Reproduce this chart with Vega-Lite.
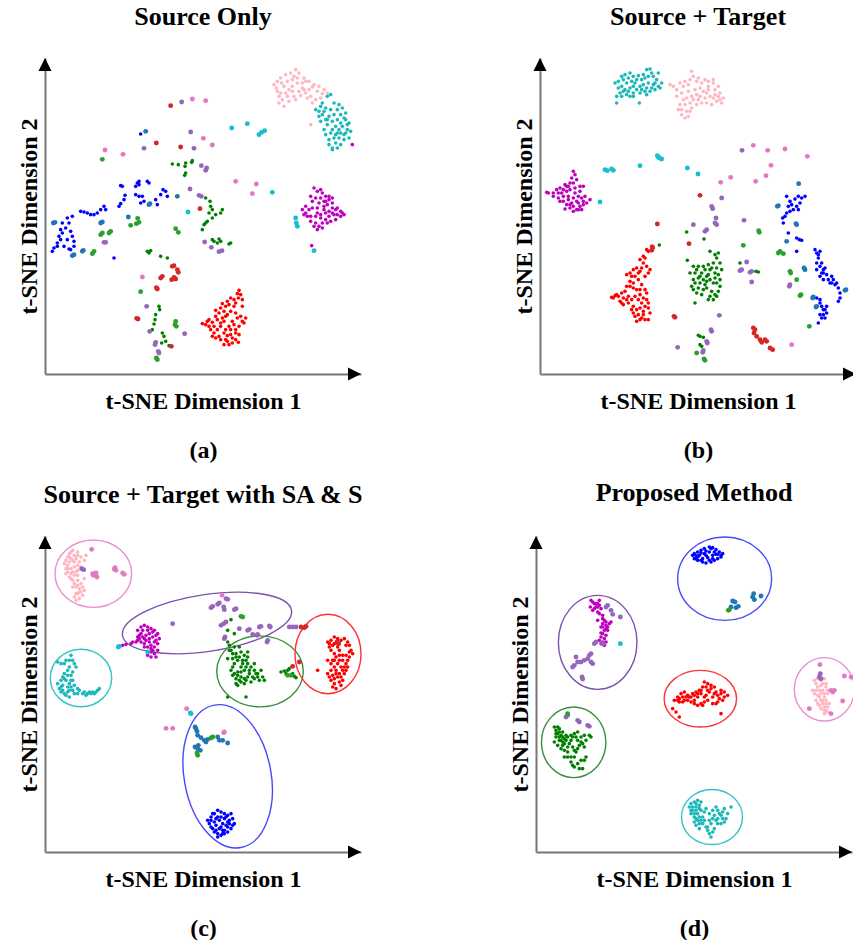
{
"$schema":"https://vega.github.io/schema/vega-lite/v6.json",
"background":"white",
"padding":{"left":17,"top":4,"right":0,"bottom":0},
"config":{
 "view":{"stroke":null},
 "font":"Liberation Serif",
 "title":{"font":"Liberation Serif","fontSize":26,"fontWeight":"bold","color":"black","anchor":"middle","baseline":"alphabetic","offset":28},
 "axis":{"domainColor":"#777777","domainWidth":2,"ticks":false,"labels":false,"grid":false,"titleFont":"Liberation Serif","titleFontSize":24,"titleFontWeight":"bold","titleColor":"black"},
 "axisX":{"titlePadding":15,"titleLineHeight":49},
 "axisY":{"titlePadding":4}
},
"datasets":{
"a":[
{"x":705,"y":895,"k":"lp"},{"x":715,"y":905,"k":"lp"},{"x":725,"y":915,"k":"lp"},{"x":740,"y":925,"k":"lp"},{"x":755,"y":930,"k":"lp"},{"x":770,"y":940,"k":"lp"},{"x":780,"y":930,"k":"lp"},{"x":795,"y":915,"k":"lp"},{"x":810,"y":905,"k":"lp"},{"x":825,"y":895,"k":"lp"},{"x":840,"y":890,"k":"lp"},{"x":855,"y":880,"k":"lp"},{"x":865,"y":870,"k":"lp"},{"x":715,"y":875,"k":"lp"},{"x":720,"y":860,"k":"lp"},{"x":730,"y":850,"k":"lp"},{"x":740,"y":870,"k":"lp"},{"x":750,"y":880,"k":"lp"},{"x":760,"y":890,"k":"lp"},{"x":775,"y":900,"k":"lp"},{"x":790,"y":885,"k":"lp"},{"x":800,"y":870,"k":"lp"},{"x":815,"y":860,"k":"lp"},{"x":830,"y":850,"k":"lp"},{"x":845,"y":855,"k":"lp"},{"x":720,"y":840,"k":"lp"},{"x":735,"y":830,"k":"lp"},{"x":750,"y":845,"k":"lp"},{"x":765,"y":860,"k":"lp"},{"x":780,"y":875,"k":"lp"},{"x":810,"y":880,"k":"lp"},{"x":820,"y":840,"k":"lp"},{"x":760,"y":910,"k":"lp"},{"x":735,"y":890,"k":"lp"},{"x":790,"y":900,"k":"lp"},{"x":805,"y":855,"k":"lp"},{"x":815,"y":775,"k":"lp"},
{"x":712,"y":885,"k":"lp"},{"x":728,"y":900,"k":"lp"},{"x":745,"y":905,"k":"lp"},{"x":765,"y":920,"k":"lp"},{"x":775,"y":915,"k":"lp"},{"x":800,"y":905,"k":"lp"},{"x":820,"y":888,"k":"lp"},{"x":835,"y":875,"k":"lp"},{"x":850,"y":868,"k":"lp"},{"x":725,"y":870,"k":"lp"},{"x":745,"y":860,"k":"lp"},{"x":770,"y":850,"k":"lp"},{"x":785,"y":862,"k":"lp"},{"x":795,"y":880,"k":"lp"},{"x":760,"y":875,"k":"lp"},
{"x":830,"y":820,"k":"c"},{"x":845,"y":830,"k":"c"},{"x":855,"y":815,"k":"c"},{"x":850,"y":840,"k":"c"},{"x":865,"y":860,"k":"c"},{"x":875,"y":865,"k":"c"},{"x":900,"y":835,"k":"c"},{"x":910,"y":825,"k":"c"},{"x":905,"y":805,"k":"c"},{"x":920,"y":790,"k":"c"},{"x":930,"y":780,"k":"c"},{"x":925,"y":760,"k":"c"},{"x":915,"y":745,"k":"c"},{"x":900,"y":735,"k":"c"},{"x":890,"y":720,"k":"c"},{"x":880,"y":705,"k":"c"},{"x":870,"y":730,"k":"c"},{"x":860,"y":745,"k":"c"},{"x":855,"y":760,"k":"c"},{"x":865,"y":775,"k":"c"},{"x":880,"y":785,"k":"c"},{"x":890,"y":770,"k":"c"},{"x":900,"y":760,"k":"c"},{"x":910,"y":770,"k":"c"},{"x":870,"y":800,"k":"c"},{"x":885,"y":805,"k":"c"},{"x":895,"y":790,"k":"c"},{"x":860,"y":790,"k":"c"},{"x":850,"y":805,"k":"c"},{"x":840,"y":815,"k":"c"},{"x":875,"y":750,"k":"c"},{"x":895,"y":750,"k":"c"},{"x":915,"y":730,"k":"c"},{"x":930,"y":735,"k":"c"},{"x":880,"y":700,"k":"c"},{"x":905,"y":715,"k":"c"},{"x":935,"y":755,"k":"c"},{"x":920,"y":810,"k":"c"},{"x":845,"y":785,"k":"c"},{"x":875,"y":820,"k":"c"},
{"x":840,"y":800,"k":"c"},{"x":860,"y":825,"k":"c"},{"x":885,"y":840,"k":"c"},{"x":895,"y":820,"k":"c"},{"x":915,"y":795,"k":"c"},{"x":925,"y":775,"k":"c"},{"x":905,"y":750,"k":"c"},{"x":885,"y":735,"k":"c"},{"x":870,"y":715,"k":"c"},{"x":890,"y":745,"k":"c"},{"x":905,"y":780,"k":"c"},{"x":865,"y":790,"k":"c"},{"x":880,"y":760,"k":"c"},{"x":920,"y":750,"k":"c"},{"x":895,"y":705,"k":"c"},
{"x":940,"y":715,"k":"m"},
{"x":395,"y":832,"k":"tr"},{"x":428,"y":843,"k":"tp"},{"x":460,"y":852,"k":"tk"},{"x":500,"y":847,"k":"tk"},
{"x":320,"y":755,"k":"tb"},{"x":305,"y":747,"k":"b"},{"x":455,"y":753,"k":"tp"},{"x":493,"y":734,"k":"tk"},{"x":520,"y":714,"k":"tk"},
{"x":352,"y":720,"k":"tr"},{"x":315,"y":704,"k":"tp"},{"x":425,"y":708,"k":"tr"},{"x":465,"y":704,"k":"tp"},
{"x":198,"y":699,"k":"tk"},{"x":252,"y":686,"k":"tk"},{"x":190,"y":671,"k":"tg"},
{"x":578,"y":765,"k":"tc"},{"x":625,"y":778,"k":"tc"},{"x":660,"y":745,"k":"tc"},{"x":668,"y":752,"k":"tc"},{"x":677,"y":757,"k":"tc"},
{"x":400,"y":657,"k":"g"},{"x":418,"y":655,"k":"g"},{"x":440,"y":660,"k":"g"},{"x":438,"y":650,"k":"g"},{"x":460,"y":667,"k":"g"},{"x":458,"y":662,"k":"g"},{"x":440,"y":630,"k":"g"},{"x":437,"y":623,"k":"g"},
{"x":487,"y":652,"k":"tp"},{"x":500,"y":638,"k":"tp"},{"x":503,"y":645,"k":"tp"},
{"x":590,"y":605,"k":"tk"},{"x":652,"y":597,"k":"tk"},{"x":640,"y":568,"k":"tk"},{"x":700,"y":572,"k":"tc"},
{"x":453,"y":582,"k":"tp"},{"x":480,"y":563,"k":"tp"},{"x":487,"y":560,"k":"tp"},{"x":415,"y":560,"k":"tb"},{"x":483,"y":523,"k":"tr"},{"x":447,"y":513,"k":"tc"},
{"x":500,"y":555,"k":"g"},{"x":513,"y":545,"k":"g"},{"x":515,"y":530,"k":"g"},{"x":520,"y":520,"k":"g"},{"x":510,"y":510,"k":"g"},{"x":530,"y":505,"k":"g"},{"x":545,"y":510,"k":"g"},{"x":550,"y":520,"k":"g"},{"x":505,"y":485,"k":"g"},{"x":495,"y":475,"k":"g"},{"x":490,"y":460,"k":"g"},{"x":500,"y":480,"k":"g"},{"x":520,"y":495,"k":"g"},
{"x":497,"y":423,"k":"tp"},{"x":517,"y":407,"k":"tp"},{"x":549,"y":397,"k":"tp"},{"x":540,"y":394,"k":"tp"},
{"x":520,"y":430,"k":"g"},{"x":525,"y":425,"k":"g"},{"x":535,"y":420,"k":"g"},{"x":545,"y":425,"k":"g"},{"x":540,"y":432,"k":"g"},{"x":575,"y":420,"k":"g"},{"x":570,"y":417,"k":"g"},
{"x":410,"y":463,"k":"tg"},{"x":418,"y":452,"k":"tg"},{"x":330,"y":535,"k":"tb"},{"x":333,"y":538,"k":"tb"},
{"x":125,"y":515,"k":"b"},{"x":135,"y":513,"k":"b"},{"x":145,"y":510,"k":"b"},{"x":155,"y":505,"k":"b"},{"x":165,"y":505,"k":"b"},{"x":175,"y":510,"k":"b"},{"x":185,"y":520,"k":"b"},{"x":195,"y":530,"k":"b"},{"x":200,"y":520,"k":"b"},{"x":240,"y":530,"k":"b"},{"x":245,"y":538,"k":"b"},{"x":255,"y":550,"k":"b"},{"x":258,"y":563,"k":"b"},{"x":250,"y":590,"k":"b"},{"x":245,"y":592,"k":"b"},{"x":290,"y":590,"k":"b"},{"x":295,"y":600,"k":"b"},{"x":300,"y":605,"k":"b"},{"x":325,"y":605,"k":"b"},{"x":290,"y":565,"k":"b"},{"x":300,"y":560,"k":"b"},{"x":310,"y":560,"k":"b"},{"x":305,"y":540,"k":"b"},{"x":315,"y":545,"k":"b"},{"x":350,"y":550,"k":"b"},{"x":355,"y":535,"k":"b"},{"x":372,"y":580,"k":"b"},{"x":380,"y":575,"k":"b"},{"x":385,"y":560,"k":"b"},{"x":365,"y":565,"k":"b"},{"x":330,"y":600,"k":"b"},{"x":300,"y":595,"k":"b"},
{"x":268,"y":498,"k":"tb"},{"x":185,"y":480,"k":"tb"},{"x":190,"y":483,"k":"tb"},
{"x":296,"y":494,"k":"tg"},{"x":300,"y":482,"k":"tg"},{"x":292,"y":478,"k":"tg"},{"x":275,"y":473,"k":"tg"},
{"x":40,"y":395,"k":"b"},{"x":45,"y":405,"k":"b"},{"x":55,"y":420,"k":"b"},{"x":60,"y":440,"k":"b"},{"x":65,"y":460,"k":"b"},{"x":70,"y":480,"k":"b"},{"x":80,"y":465,"k":"b"},{"x":90,"y":480,"k":"b"},{"x":95,"y":455,"k":"b"},{"x":100,"y":440,"k":"b"},{"x":85,"y":430,"k":"b"},{"x":75,"y":410,"k":"b"},{"x":90,"y":402,"k":"b"},{"x":95,"y":400,"k":"b"},{"x":105,"y":410,"k":"b"},{"x":105,"y":425,"k":"b"},{"x":65,"y":430,"k":"b"},{"x":55,"y":410,"k":"b"},{"x":70,"y":450,"k":"b"},{"x":85,"y":495,"k":"b"},{"x":100,"y":500,"k":"b"},
{"x":43,"y":480,"k":"tb"},{"x":48,"y":482,"k":"tb"},{"x":100,"y":382,"k":"tb"},{"x":105,"y":385,"k":"tb"},{"x":130,"y":395,"k":"tb"},{"x":133,"y":398,"k":"tb"},{"x":160,"y":388,"k":"tg"},{"x":165,"y":395,"k":"tg"},
{"x":185,"y":445,"k":"tg"},{"x":190,"y":450,"k":"tg"},{"x":215,"y":455,"k":"tg"},{"x":210,"y":450,"k":"tg"},{"x":195,"y":422,"k":"tp"},{"x":200,"y":422,"k":"tp"},
{"x":225,"y":375,"k":"b"},
{"x":325,"y":395,"k":"g"},{"x":330,"y":390,"k":"g"},{"x":335,"y":397,"k":"g"},{"x":365,"y":380,"k":"g"},{"x":385,"y":375,"k":"g"},
{"x":400,"y":350,"k":"tr"},{"x":405,"y":352,"k":"tr"},{"x":415,"y":340,"k":"tr"},{"x":418,"y":332,"k":"tr"},{"x":405,"y":317,"k":"tr"},{"x":398,"y":310,"k":"tr"},{"x":410,"y":312,"k":"tr"},{"x":365,"y":315,"k":"tr"},{"x":370,"y":320,"k":"tr"},{"x":310,"y":318,"k":"tk"},{"x":355,"y":282,"k":"tr"},{"x":352,"y":286,"k":"tr"},{"x":305,"y":274,"k":"tg"},
{"x":323,"y":230,"k":"tp"},{"x":360,"y":230,"k":"g"},{"x":362,"y":220,"k":"g"},{"x":350,"y":205,"k":"g"},{"x":348,"y":190,"k":"g"},{"x":345,"y":177,"k":"g"},{"x":340,"y":160,"k":"g"},{"x":293,"y":194,"k":"tr"},{"x":297,"y":192,"k":"tr"},{"x":410,"y":185,"k":"tg"},{"x":408,"y":175,"k":"tg"},{"x":412,"y":170,"k":"tg"},{"x":332,"y":155,"k":"tp"},{"x":437,"y":148,"k":"tp"},{"x":370,"y":150,"k":"g"},{"x":375,"y":140,"k":"g"},{"x":380,"y":125,"k":"g"},{"x":368,"y":120,"k":"g"},{"x":390,"y":112,"k":"g"},{"x":397,"y":110,"k":"tr"},{"x":350,"y":122,"k":"tp"},{"x":348,"y":115,"k":"tp"},{"x":358,"y":95,"k":"tp"},{"x":360,"y":90,"k":"tp"},{"x":352,"y":75,"k":"tg"},{"x":355,"y":70,"k":"tg"},
{"x":600,"y":278,"k":"r"},{"x":605,"y":265,"k":"r"},{"x":610,"y":250,"k":"r"},{"x":598,"y":255,"k":"r"},{"x":590,"y":240,"k":"r"},{"x":575,"y":255,"k":"r"},{"x":570,"y":235,"k":"r"},{"x":560,"y":230,"k":"r"},{"x":545,"y":225,"k":"r"},{"x":530,"y":218,"k":"r"},{"x":555,"y":215,"k":"r"},{"x":575,"y":215,"k":"r"},{"x":590,"y":210,"k":"r"},{"x":605,"y":200,"k":"r"},{"x":620,"y":195,"k":"r"},{"x":615,"y":180,"k":"r"},{"x":600,"y":170,"k":"r"},{"x":590,"y":160,"k":"r"},{"x":600,"y":145,"k":"r"},{"x":590,"y":130,"k":"r"},{"x":598,"y":122,"k":"r"},{"x":580,"y":120,"k":"r"},{"x":565,"y":125,"k":"r"},{"x":555,"y":115,"k":"r"},{"x":545,"y":130,"k":"r"},{"x":540,"y":140,"k":"r"},{"x":525,"y":150,"k":"r"},{"x":515,"y":160,"k":"r"},{"x":510,"y":170,"k":"r"},{"x":500,"y":175,"k":"r"},{"x":490,"y":178,"k":"r"},{"x":505,"y":185,"k":"r"},{"x":520,"y":182,"k":"r"},{"x":535,"y":190,"k":"r"},{"x":550,"y":195,"k":"r"},{"x":560,"y":200,"k":"r"},{"x":545,"y":170,"k":"r"},{"x":560,"y":160,"k":"r"},{"x":570,"y":170,"k":"r"},{"x":575,"y":145,"k":"r"},{"x":580,"y":185,"k":"r"},{"x":530,"y":200,"k":"r"},{"x":585,"y":230,"k":"r"},{"x":565,"y":142,"k":"r"},{"x":520,"y":140,"k":"r"},{"x":610,"y":230,"k":"r"},{"x":555,"y":185,"k":"r"},
{"x":595,"y":268,"k":"r"},{"x":585,"y":250,"k":"r"},{"x":565,"y":245,"k":"r"},{"x":550,"y":238,"k":"r"},{"x":540,"y":210,"k":"r"},{"x":565,"y":205,"k":"r"},{"x":595,"y":195,"k":"r"},{"x":610,"y":185,"k":"r"},{"x":585,"y":175,"k":"r"},{"x":575,"y":160,"k":"r"},{"x":590,"y":150,"k":"r"},{"x":580,"y":135,"k":"r"},{"x":555,"y":150,"k":"r"},{"x":535,"y":160,"k":"r"},{"x":525,"y":170,"k":"r"},{"x":510,"y":190,"k":"r"},{"x":545,"y":180,"k":"r"},{"x":560,"y":130,"k":"r"},{"x":570,"y":115,"k":"r"},{"x":530,"y":135,"k":"r"},
{"x":825,"y":585,"k":"m"},{"x":835,"y":575,"k":"m"},{"x":850,"y":570,"k":"m"},{"x":860,"y":560,"k":"m"},{"x":870,"y":550,"k":"m"},{"x":880,"y":555,"k":"m"},{"x":830,"y":555,"k":"m"},{"x":820,"y":545,"k":"m"},{"x":840,"y":540,"k":"m"},{"x":855,"y":530,"k":"m"},{"x":865,"y":535,"k":"m"},{"x":880,"y":525,"k":"m"},{"x":890,"y":520,"k":"m"},{"x":905,"y":515,"k":"m"},{"x":915,"y":505,"k":"m"},{"x":905,"y":500,"k":"m"},{"x":895,"y":505,"k":"m"},{"x":870,"y":500,"k":"m"},{"x":860,"y":490,"k":"m"},{"x":850,"y":480,"k":"m"},{"x":840,"y":470,"k":"m"},{"x":835,"y":460,"k":"m"},{"x":825,"y":470,"k":"m"},{"x":815,"y":485,"k":"m"},{"x":805,"y":500,"k":"m"},{"x":800,"y":510,"k":"m"},{"x":790,"y":520,"k":"m"},{"x":810,"y":520,"k":"m"},{"x":820,"y":525,"k":"m"},{"x":835,"y":510,"k":"m"},{"x":845,"y":505,"k":"m"},{"x":860,"y":510,"k":"m"},{"x":875,"y":485,"k":"m"},{"x":865,"y":480,"k":"m"},{"x":885,"y":505,"k":"m"},{"x":855,"y":545,"k":"m"},{"x":800,"y":530,"k":"m"},{"x":845,"y":495,"k":"m"},{"x":830,"y":500,"k":"m"},{"x":870,"y":515,"k":"m"},{"x":880,"y":540,"k":"m"},
{"x":815,"y":560,"k":"m"},{"x":845,"y":555,"k":"m"},{"x":870,"y":560,"k":"m"},{"x":895,"y":525,"k":"m"},{"x":910,"y":510,"k":"m"},{"x":880,"y":510,"k":"m"},{"x":855,"y":520,"k":"m"},{"x":835,"y":525,"k":"m"},{"x":815,"y":500,"k":"m"},{"x":795,"y":505,"k":"m"},{"x":850,"y":465,"k":"m"},{"x":830,"y":480,"k":"m"},{"x":890,"y":490,"k":"m"},{"x":860,"y":545,"k":"m"},{"x":845,"y":580,"k":"m"},
{"x":770,"y":495,"k":"tc"},{"x":775,"y":470,"k":"tc"},{"x":772,"y":480,"k":"tc"},{"x":818,"y":412,"k":"m"},{"x":825,"y":397,"k":"tc"}
],
"b":[
{"x":245,"y":900,"k":"c"},{"x":255,"y":905,"k":"c"},{"x":265,"y":920,"k":"c"},{"x":275,"y":925,"k":"c"},{"x":290,"y":930,"k":"c"},{"x":300,"y":920,"k":"c"},{"x":315,"y":922,"k":"c"},{"x":325,"y":910,"k":"c"},{"x":335,"y":915,"k":"c"},{"x":340,"y":940,"k":"c"},{"x":350,"y":942,"k":"c"},{"x":355,"y":930,"k":"c"},{"x":360,"y":920,"k":"c"},{"x":370,"y":910,"k":"c"},{"x":385,"y":900,"k":"c"},{"x":380,"y":885,"k":"c"},{"x":365,"y":880,"k":"c"},{"x":350,"y":875,"k":"c"},{"x":340,"y":885,"k":"c"},{"x":330,"y":895,"k":"c"},{"x":320,"y":890,"k":"c"},{"x":310,"y":880,"k":"c"},{"x":300,"y":870,"k":"c"},{"x":290,"y":860,"k":"c"},{"x":280,"y":865,"k":"c"},{"x":270,"y":875,"k":"c"},{"x":260,"y":870,"k":"c"},{"x":250,"y":860,"k":"c"},{"x":265,"y":890,"k":"c"},{"x":280,"y":900,"k":"c"},{"x":295,"y":905,"k":"c"},{"x":305,"y":900,"k":"c"},{"x":290,"y":885,"k":"c"},{"x":275,"y":880,"k":"c"},{"x":320,"y":870,"k":"c"},{"x":345,"y":900,"k":"c"},{"x":360,"y":895,"k":"c"},{"x":318,"y":840,"k":"c"},{"x":250,"y":840,"k":"c"},{"x":375,"y":930,"k":"c"},{"x":300,"y":860,"k":"c"},{"x":335,"y":875,"k":"c"},
{"x":255,"y":885,"k":"c"},{"x":270,"y":910,"k":"c"},{"x":285,"y":915,"k":"c"},{"x":310,"y":910,"k":"c"},{"x":330,"y":925,"k":"c"},{"x":345,"y":920,"k":"c"},{"x":365,"y":900,"k":"c"},{"x":375,"y":890,"k":"c"},{"x":355,"y":885,"k":"c"},{"x":325,"y":880,"k":"c"},{"x":300,"y":890,"k":"c"},{"x":285,"y":875,"k":"c"},{"x":265,"y":860,"k":"c"},{"x":340,"y":865,"k":"c"},
{"x":410,"y":895,"k":"lp"},{"x":420,"y":890,"k":"lp"},{"x":440,"y":900,"k":"lp"},{"x":455,"y":905,"k":"lp"},{"x":470,"y":910,"k":"lp"},{"x":480,"y":920,"k":"lp"},{"x":475,"y":935,"k":"lp"},{"x":490,"y":905,"k":"lp"},{"x":505,"y":900,"k":"lp"},{"x":515,"y":910,"k":"lp"},{"x":525,"y":890,"k":"lp"},{"x":540,"y":900,"k":"lp"},{"x":545,"y":880,"k":"lp"},{"x":560,"y":870,"k":"lp"},{"x":570,"y":855,"k":"lp"},{"x":565,"y":840,"k":"lp"},{"x":550,"y":845,"k":"lp"},{"x":540,"y":855,"k":"lp"},{"x":530,"y":860,"k":"lp"},{"x":520,"y":870,"k":"lp"},{"x":510,"y":875,"k":"lp"},{"x":500,"y":860,"k":"lp"},{"x":490,"y":865,"k":"lp"},{"x":480,"y":850,"k":"lp"},{"x":470,"y":840,"k":"lp"},{"x":460,"y":855,"k":"lp"},{"x":450,"y":850,"k":"lp"},{"x":440,"y":835,"k":"lp"},{"x":435,"y":820,"k":"lp"},{"x":445,"y":805,"k":"lp"},{"x":455,"y":795,"k":"lp"},{"x":465,"y":800,"k":"lp"},{"x":460,"y":815,"k":"lp"},{"x":475,"y":825,"k":"lp"},{"x":490,"y":835,"k":"lp"},{"x":505,"y":840,"k":"lp"},{"x":520,"y":840,"k":"lp"},{"x":535,"y":835,"k":"lp"},{"x":500,"y":885,"k":"lp"},{"x":485,"y":880,"k":"lp"},{"x":465,"y":875,"k":"lp"},{"x":445,"y":870,"k":"lp"},{"x":430,"y":860,"k":"lp"},{"x":555,"y":860,"k":"lp"},{"x":540,"y":910,"k":"lp"},
{"x":430,"y":880,"k":"lp"},{"x":450,"y":890,"k":"lp"},{"x":465,"y":895,"k":"lp"},{"x":495,"y":915,"k":"lp"},{"x":525,"y":905,"k":"lp"},{"x":555,"y":890,"k":"lp"},{"x":560,"y":850,"k":"lp"},{"x":545,"y":865,"k":"lp"},{"x":515,"y":855,"k":"lp"},{"x":495,"y":850,"k":"lp"},{"x":475,"y":860,"k":"lp"},{"x":455,"y":835,"k":"lp"},{"x":445,"y":820,"k":"lp"},{"x":470,"y":815,"k":"lp"},{"x":525,"y":880,"k":"lp"},
{"x":120,"y":635,"k":"m"},{"x":125,"y":625,"k":"m"},{"x":115,"y":615,"k":"m"},{"x":130,"y":610,"k":"m"},{"x":110,"y":600,"k":"m"},{"x":95,"y":595,"k":"m"},{"x":80,"y":585,"k":"m"},{"x":70,"y":580,"k":"m"},{"x":85,"y":570,"k":"m"},{"x":100,"y":575,"k":"m"},{"x":90,"y":560,"k":"m"},{"x":75,"y":555,"k":"m"},{"x":60,"y":560,"k":"m"},{"x":45,"y":570,"k":"m"},{"x":40,"y":572,"k":"m"},{"x":105,"y":550,"k":"m"},{"x":115,"y":540,"k":"m"},{"x":100,"y":535,"k":"m"},{"x":95,"y":522,"k":"m"},{"x":110,"y":525,"k":"m"},{"x":120,"y":515,"k":"m"},{"x":130,"y":520,"k":"m"},{"x":140,"y":530,"k":"m"},{"x":150,"y":535,"k":"m"},{"x":160,"y":540,"k":"m"},{"x":145,"y":555,"k":"m"},{"x":135,"y":560,"k":"m"},{"x":125,"y":570,"k":"m"},{"x":140,"y":575,"k":"m"},{"x":150,"y":590,"k":"m"},{"x":125,"y":585,"k":"m"},{"x":110,"y":580,"k":"m"},{"x":130,"y":545,"k":"m"},{"x":155,"y":560,"k":"m"},{"x":170,"y":550,"k":"m"},{"x":135,"y":520,"k":"m"},{"x":105,"y":590,"k":"m"},{"x":90,"y":545,"k":"m"},
{"x":120,"y":600,"k":"m"},{"x":100,"y":590,"k":"m"},{"x":90,"y":580,"k":"m"},{"x":75,"y":570,"k":"m"},{"x":60,"y":570,"k":"m"},{"x":80,"y":545,"k":"m"},{"x":105,"y":560,"k":"m"},{"x":120,"y":555,"k":"m"},{"x":135,"y":540,"k":"m"},{"x":150,"y":545,"k":"m"},{"x":120,"y":530,"k":"m"},{"x":145,"y":520,"k":"m"},{"x":110,"y":535,"k":"m"},{"x":140,"y":590,"k":"m"},
{"x":200,"y":543,"k":"tc"},{"x":215,"y":640,"k":"tc"},{"x":222,"y":637,"k":"tc"},{"x":235,"y":642,"k":"tc"},{"x":240,"y":638,"k":"tc"},{"x":320,"y":652,"k":"tc"},{"x":372,"y":682,"k":"tc"},{"x":378,"y":675,"k":"tc"},{"x":385,"y":672,"k":"tc"},{"x":375,"y":678,"k":"tc"},{"x":462,"y":645,"k":"tc"},{"x":494,"y":627,"k":"tc"},
{"x":626,"y":698,"k":"tp"},{"x":660,"y":713,"k":"tk"},{"x":703,"y":698,"k":"tk"},{"x":755,"y":702,"k":"tk"},{"x":822,"y":680,"k":"tk"},{"x":713,"y":653,"k":"tk"},{"x":698,"y":622,"k":"tk"},{"x":667,"y":605,"k":"tk"},{"x":592,"y":617,"k":"tk"},{"x":562,"y":602,"k":"tk"},{"x":565,"y":555,"k":"tp"},{"x":500,"y":563,"k":"tr"},{"x":535,"y":530,"k":"tp"},{"x":538,"y":523,"k":"tp"},{"x":548,"y":495,"k":"tp"},{"x":545,"y":480,"k":"tp"},{"x":550,"y":475,"k":"tp"},{"x":480,"y":475,"k":"tp"},{"x":515,"y":455,"k":"tp"},{"x":520,"y":460,"k":"tp"},{"x":460,"y":453,"k":"g"},{"x":512,"y":432,"k":"g"},{"x":632,"y":488,"k":"tp"},{"x":676,"y":457,"k":"tg"},{"x":678,"y":452,"k":"tg"},{"x":372,"y":477,"k":"tr"},{"x":357,"y":408,"k":"tr"},{"x":355,"y":398,"k":"tr"},{"x":378,"y":414,"k":"g"},{"x":467,"y":418,"k":"tr"},
{"x":796,"y":598,"k":"tb"},
{"x":760,"y":560,"k":"b"},{"x":770,"y":545,"k":"b"},{"x":785,"y":552,"k":"b"},{"x":795,"y":560,"k":"b"},{"x":805,"y":555,"k":"b"},{"x":815,"y":560,"k":"b"},{"x":800,"y":540,"k":"b"},{"x":790,"y":530,"k":"b"},{"x":780,"y":520,"k":"b"},{"x":770,"y":515,"k":"b"},{"x":760,"y":510,"k":"b"},{"x":755,"y":500,"k":"b"},{"x":750,"y":480,"k":"b"},{"x":748,"y":495,"k":"b"},{"x":765,"y":530,"k":"b"},{"x":795,"y":520,"k":"b"},{"x":775,"y":535,"k":"b"},
{"x":735,"y":532,"k":"tb"},{"x":732,"y":530,"k":"tb"},{"x":788,"y":478,"k":"tb"},{"x":790,"y":475,"k":"tb"},{"x":765,"y":450,"k":"b"},{"x":760,"y":425,"k":"tb"},{"x":790,"y":435,"k":"b"},{"x":798,"y":430,"k":"b"},{"x":805,"y":428,"k":"b"},{"x":790,"y":395,"k":"b"},
{"x":630,"y":413,"k":"tg"},{"x":620,"y":360,"k":"g"},{"x":640,"y":363,"k":"tp"},{"x":625,"y":340,"k":"tp"},{"x":620,"y":337,"k":"tp"},{"x":655,"y":335,"k":"tp"},{"x":650,"y":332,"k":"tp"},{"x":675,"y":333,"k":"g"},{"x":668,"y":335,"k":"g"},{"x":655,"y":303,"k":"tp"},
{"x":735,"y":390,"k":"tg"},{"x":740,"y":395,"k":"tg"},{"x":750,"y":388,"k":"tg"},{"x":770,"y":335,"k":"tg"},{"x":772,"y":330,"k":"tg"},{"x":790,"y":310,"k":"tg"},{"x":770,"y":295,"k":"tp"},{"x":768,"y":290,"k":"tp"},{"x":803,"y":265,"k":"tg"},{"x":800,"y":262,"k":"tg"},{"x":828,"y":170,"k":"tg"},
{"x":845,"y":400,"k":"b"},{"x":850,"y":390,"k":"b"},{"x":860,"y":395,"k":"b"},{"x":855,"y":375,"k":"b"},{"x":850,"y":360,"k":"b"},{"x":860,"y":350,"k":"b"},{"x":870,"y":340,"k":"b"},{"x":865,"y":330,"k":"b"},{"x":880,"y":325,"k":"b"},{"x":885,"y":310,"k":"b"},{"x":895,"y":300,"k":"b"},{"x":905,"y":295,"k":"b"},{"x":915,"y":285,"k":"b"},{"x":920,"y":255,"k":"b"},{"x":915,"y":245,"k":"b"},{"x":890,"y":300,"k":"b"},{"x":870,"y":310,"k":"b"},{"x":860,"y":320,"k":"b"},{"x":850,"y":340,"k":"b"},{"x":865,"y":360,"k":"b"},{"x":875,"y":345,"k":"b"},{"x":900,"y":310,"k":"b"},{"x":860,"y":240,"k":"b"},{"x":865,"y":230,"k":"b"},{"x":875,"y":220,"k":"b"},{"x":880,"y":210,"k":"b"},{"x":870,"y":205,"k":"b"},{"x":865,"y":195,"k":"b"},{"x":855,"y":180,"k":"b"},{"x":860,"y":250,"k":"b"},{"x":850,"y":255,"k":"b"},{"x":880,"y":230,"k":"b"},
{"x":855,"y":385,"k":"b"},{"x":870,"y":330,"k":"b"},{"x":895,"y":320,"k":"b"},{"x":910,"y":300,"k":"b"},{"x":920,"y":270,"k":"b"},{"x":870,"y":220,"k":"b"},{"x":860,"y":205,"k":"b"},{"x":875,"y":195,"k":"b"},
{"x":812,"y":345,"k":"tb"},{"x":815,"y":340,"k":"tb"},{"x":938,"y":280,"k":"tb"},{"x":935,"y":278,"k":"tb"},{"x":840,"y":258,"k":"tb"},{"x":838,"y":255,"k":"tb"},{"x":850,"y":230,"k":"tb"},{"x":848,"y":228,"k":"tb"},
{"x":355,"y":410,"k":"r"},{"x":360,"y":405,"k":"r"},{"x":345,"y":395,"k":"r"},{"x":330,"y":380,"k":"r"},{"x":320,"y":370,"k":"r"},{"x":330,"y":360,"k":"r"},{"x":340,"y":350,"k":"r"},{"x":350,"y":340,"k":"r"},{"x":345,"y":330,"k":"r"},{"x":335,"y":320,"k":"r"},{"x":320,"y":335,"k":"r"},{"x":310,"y":345,"k":"r"},{"x":300,"y":340,"k":"r"},{"x":290,"y":330,"k":"r"},{"x":280,"y":325,"k":"r"},{"x":305,"y":320,"k":"r"},{"x":315,"y":310,"k":"r"},{"x":300,"y":300,"k":"r"},{"x":290,"y":290,"k":"r"},{"x":275,"y":275,"k":"r"},{"x":265,"y":270,"k":"r"},{"x":255,"y":260,"k":"r"},{"x":240,"y":255,"k":"r"},{"x":235,"y":257,"k":"r"},{"x":250,"y":265,"k":"r"},{"x":260,"y":245,"k":"r"},{"x":270,"y":235,"k":"r"},{"x":285,"y":240,"k":"r"},{"x":295,"y":250,"k":"r"},{"x":305,"y":260,"k":"r"},{"x":320,"y":265,"k":"r"},{"x":330,"y":255,"k":"r"},{"x":340,"y":250,"k":"r"},{"x":345,"y":240,"k":"r"},{"x":335,"y":230,"k":"r"},{"x":320,"y":225,"k":"r"},{"x":310,"y":220,"k":"r"},{"x":300,"y":210,"k":"r"},{"x":305,"y":200,"k":"r"},{"x":310,"y":185,"k":"r"},{"x":320,"y":190,"k":"r"},{"x":335,"y":190,"k":"r"},{"x":345,"y":190,"k":"r"},{"x":330,"y":205,"k":"r"},{"x":350,"y":210,"k":"r"},{"x":300,"y":230,"k":"r"},{"x":320,"y":280,"k":"r"},{"x":335,"y":280,"k":"r"},{"x":325,"y":295,"k":"r"},{"x":285,"y":260,"k":"r"},{"x":310,"y":280,"k":"r"},
{"x":340,"y":400,"k":"r"},{"x":335,"y":375,"k":"r"},{"x":325,"y":345,"k":"r"},{"x":315,"y":330,"k":"r"},{"x":295,"y":320,"k":"r"},{"x":290,"y":305,"k":"r"},{"x":280,"y":290,"k":"r"},{"x":270,"y":255,"k":"r"},{"x":245,"y":262,"k":"r"},{"x":265,"y":240,"k":"r"},{"x":280,"y":250,"k":"r"},{"x":315,"y":250,"k":"r"},{"x":325,"y":240,"k":"r"},{"x":345,"y":225,"k":"r"},{"x":330,"y":215,"k":"r"},{"x":315,"y":205,"k":"r"},{"x":295,"y":220,"k":"r"},{"x":325,"y":195,"k":"r"},{"x":340,"y":270,"k":"r"},{"x":300,"y":285,"k":"r"},
{"x":422,"y":200,"k":"tr"},{"x":425,"y":197,"k":"tr"},
{"x":462,"y":368,"k":"g"},{"x":480,"y":350,"k":"g"},{"x":490,"y":340,"k":"g"},{"x":485,"y":330,"k":"g"},{"x":480,"y":310,"k":"g"},{"x":475,"y":290,"k":"g"},{"x":480,"y":280,"k":"g"},{"x":490,"y":270,"k":"g"},{"x":485,"y":240,"k":"g"},{"x":500,"y":300,"k":"g"},{"x":510,"y":310,"k":"g"},{"x":520,"y":320,"k":"g"},{"x":515,"y":340,"k":"g"},{"x":525,"y":355,"k":"g"},{"x":540,"y":360,"k":"g"},{"x":550,"y":375,"k":"g"},{"x":555,"y":390,"k":"g"},{"x":530,"y":395,"k":"g"},{"x":545,"y":385,"k":"g"},{"x":560,"y":360,"k":"g"},{"x":565,"y":340,"k":"g"},{"x":555,"y":325,"k":"g"},{"x":545,"y":315,"k":"g"},{"x":550,"y":300,"k":"g"},{"x":560,"y":290,"k":"g"},{"x":555,"y":275,"k":"g"},{"x":545,"y":265,"k":"g"},{"x":540,"y":250,"k":"g"},{"x":530,"y":260,"k":"g"},{"x":520,"y":285,"k":"g"},{"x":510,"y":280,"k":"g"},{"x":500,"y":320,"k":"g"},{"x":495,"y":350,"k":"g"},{"x":510,"y":350,"k":"g"},{"x":530,"y":340,"k":"g"},{"x":540,"y":300,"k":"g"},{"x":535,"y":275,"k":"g"},{"x":520,"y":305,"k":"g"},
{"x":470,"y":330,"k":"g"},{"x":495,"y":315,"k":"g"},{"x":505,"y":330,"k":"g"},{"x":525,"y":325,"k":"g"},{"x":535,"y":345,"k":"g"},{"x":550,"y":345,"k":"g"},{"x":545,"y":330,"k":"g"},{"x":560,"y":310,"k":"g"},{"x":530,"y":310,"k":"g"},{"x":515,"y":295,"k":"g"},{"x":505,"y":265,"k":"g"},{"x":525,"y":250,"k":"g"},{"x":550,"y":260,"k":"g"},{"x":495,"y":285,"k":"g"},{"x":485,"y":300,"k":"g"},
{"x":558,"y":203,"k":"tp"},{"x":533,"y":160,"k":"tp"},{"x":535,"y":155,"k":"tp"},{"x":495,"y":143,"k":"g"},{"x":500,"y":140,"k":"g"},{"x":510,"y":137,"k":"g"},{"x":520,"y":125,"k":"tp"},{"x":522,"y":120,"k":"tp"},{"x":500,"y":115,"k":"g"},{"x":505,"y":110,"k":"g"},{"x":510,"y":98,"k":"tp"},{"x":508,"y":92,"k":"tp"},{"x":490,"y":90,"k":"tg"},{"x":512,"y":72,"k":"tg"},{"x":515,"y":68,"k":"tg"},{"x":433,"y":107,"k":"tp"},
{"x":660,"y":165,"k":"tr"},{"x":665,"y":160,"k":"tr"},{"x":662,"y":150,"k":"tr"},{"x":670,"y":140,"k":"tr"},{"x":680,"y":130,"k":"tr"},{"x":685,"y":122,"k":"tr"},{"x":695,"y":130,"k":"tr"},{"x":700,"y":125,"k":"tr"},{"x":710,"y":105,"k":"tr"},{"x":718,"y":100,"k":"tr"},{"x":775,"y":115,"k":"tk"}
],
"c":[
{"x":70,"y":890,"k":"lp"},{"x":75,"y":900,"k":"lp"},{"x":80,"y":910,"k":"lp"},{"x":85,"y":920,"k":"lp"},{"x":90,"y":925,"k":"lp"},{"x":95,"y":930,"k":"lp"},{"x":100,"y":915,"k":"lp"},{"x":105,"y":905,"k":"lp"},{"x":95,"y":900,"k":"lp"},{"x":85,"y":895,"k":"lp"},{"x":80,"y":885,"k":"lp"},{"x":75,"y":875,"k":"lp"},{"x":80,"y":865,"k":"lp"},{"x":90,"y":860,"k":"lp"},{"x":100,"y":855,"k":"lp"},{"x":110,"y":870,"k":"lp"},{"x":120,"y":880,"k":"lp"},{"x":115,"y":895,"k":"lp"},{"x":100,"y":880,"k":"lp"},{"x":90,"y":875,"k":"lp"},{"x":95,"y":840,"k":"lp"},{"x":100,"y":830,"k":"lp"},{"x":105,"y":820,"k":"lp"},{"x":115,"y":815,"k":"lp"},{"x":120,"y":805,"k":"lp"},{"x":110,"y":800,"k":"lp"},{"x":100,"y":790,"k":"lp"},{"x":105,"y":780,"k":"lp"},{"x":115,"y":785,"k":"lp"},{"x":125,"y":795,"k":"lp"},{"x":130,"y":810,"k":"lp"},{"x":120,"y":830,"k":"lp"},{"x":110,"y":840,"k":"lp"},{"x":85,"y":850,"k":"lp"},{"x":75,"y":860,"k":"lp"},{"x":130,"y":845,"k":"lp"},{"x":105,"y":865,"k":"lp"},{"x":110,"y":925,"k":"lp"},{"x":120,"y":910,"k":"lp"},{"x":130,"y":900,"k":"lp"},{"x":135,"y":915,"k":"lp"},
{"x":85,"y":910,"k":"lp"},{"x":90,"y":905,"k":"lp"},{"x":100,"y":895,"k":"lp"},{"x":110,"y":885,"k":"lp"},{"x":95,"y":865,"k":"lp"},{"x":110,"y":855,"k":"lp"},{"x":95,"y":820,"k":"lp"},{"x":110,"y":825,"k":"lp"},{"x":105,"y":800,"k":"lp"},{"x":115,"y":805,"k":"lp"},{"x":90,"y":845,"k":"lp"},{"x":125,"y":820,"k":"lp"},{"x":80,"y":875,"k":"lp"},{"x":110,"y":915,"k":"lp"},
{"x":152,"y":933,"k":"tk"},{"x":122,"y":875,"k":"tp"},{"x":128,"y":872,"k":"tp"},{"x":155,"y":860,"k":"tk"},{"x":157,"y":855,"k":"tk"},{"x":165,"y":862,"k":"tk"},{"x":168,"y":850,"k":"tk"},{"x":220,"y":873,"k":"tk"},{"x":225,"y":870,"k":"tk"},{"x":222,"y":878,"k":"tk"},{"x":245,"y":862,"k":"tk"},{"x":250,"y":858,"k":"tk"},
{"x":50,"y":595,"k":"c"},{"x":60,"y":590,"k":"c"},{"x":75,"y":600,"k":"c"},{"x":90,"y":615,"k":"c"},{"x":95,"y":600,"k":"c"},{"x":100,"y":590,"k":"c"},{"x":85,"y":580,"k":"c"},{"x":80,"y":570,"k":"c"},{"x":95,"y":565,"k":"c"},{"x":90,"y":555,"k":"c"},{"x":70,"y":560,"k":"c"},{"x":65,"y":550,"k":"c"},{"x":75,"y":540,"k":"c"},{"x":85,"y":530,"k":"c"},{"x":90,"y":520,"k":"c"},{"x":95,"y":510,"k":"c"},{"x":80,"y":505,"k":"c"},{"x":70,"y":500,"k":"c"},{"x":60,"y":505,"k":"c"},{"x":55,"y":515,"k":"c"},{"x":65,"y":525,"k":"c"},{"x":95,"y":540,"k":"c"},{"x":100,"y":525,"k":"c"},{"x":110,"y":515,"k":"c"},{"x":115,"y":510,"k":"c"},{"x":125,"y":500,"k":"c"},{"x":135,"y":495,"k":"c"},{"x":145,"y":505,"k":"c"},{"x":150,"y":500,"k":"c"},{"x":160,"y":500,"k":"c"},{"x":170,"y":510,"k":"c"},{"x":175,"y":515,"k":"c"},{"x":155,"y":505,"k":"c"},{"x":105,"y":580,"k":"c"},{"x":60,"y":540,"k":"c"},{"x":50,"y":530,"k":"c"},{"x":100,"y":500,"k":"c"},{"x":85,"y":490,"k":"c"},{"x":75,"y":495,"k":"c"},{"x":130,"y":505,"k":"c"},
{"x":70,"y":590,"k":"c"},{"x":85,"y":600,"k":"c"},{"x":80,"y":555,"k":"c"},{"x":70,"y":545,"k":"c"},{"x":80,"y":520,"k":"c"},{"x":90,"y":540,"k":"c"},{"x":85,"y":510,"k":"c"},{"x":65,"y":510,"k":"c"},{"x":60,"y":520,"k":"c"},{"x":140,"y":500,"k":"c"},{"x":165,"y":505,"k":"c"},{"x":110,"y":500,"k":"c"},
{"x":290,"y":690,"k":"m"},{"x":300,"y":700,"k":"m"},{"x":310,"y":705,"k":"m"},{"x":320,"y":700,"k":"m"},{"x":330,"y":695,"k":"m"},{"x":340,"y":690,"k":"m"},{"x":350,"y":680,"k":"m"},{"x":355,"y":665,"k":"m"},{"x":350,"y":650,"k":"m"},{"x":340,"y":640,"k":"m"},{"x":335,"y":630,"k":"m"},{"x":340,"y":620,"k":"m"},{"x":345,"y":610,"k":"m"},{"x":330,"y":625,"k":"m"},{"x":320,"y":640,"k":"m"},{"x":310,"y":650,"k":"m"},{"x":300,"y":655,"k":"m"},{"x":295,"y":665,"k":"m"},{"x":305,"y":670,"k":"m"},{"x":315,"y":675,"k":"m"},{"x":325,"y":680,"k":"m"},{"x":335,"y":670,"k":"m"},{"x":345,"y":660,"k":"m"},{"x":325,"y":655,"k":"m"},{"x":315,"y":660,"k":"m"},{"x":290,"y":660,"k":"m"},{"x":285,"y":655,"k":"m"},{"x":270,"y":650,"k":"m"},{"x":255,"y":648,"k":"m"},{"x":245,"y":645,"k":"m"},{"x":300,"y":680,"k":"m"},{"x":330,"y":645,"k":"m"},{"x":320,"y":615,"k":"m"},
{"x":305,"y":690,"k":"m"},{"x":320,"y":690,"k":"m"},{"x":335,"y":685,"k":"m"},{"x":345,"y":675,"k":"m"},{"x":340,"y":655,"k":"m"},{"x":330,"y":635,"k":"m"},{"x":325,"y":665,"k":"m"},{"x":310,"y":665,"k":"m"},{"x":295,"y":675,"k":"m"},{"x":290,"y":670,"k":"m"},{"x":330,"y":610,"k":"m"},{"x":350,"y":630,"k":"m"},{"x":310,"y":640,"k":"m"},{"x":275,"y":655,"k":"m"},
{"x":232,"y":640,"k":"tc"},{"x":235,"y":642,"k":"tc"},{"x":320,"y":625,"k":"tc"},
{"x":395,"y":710,"k":"tp"},{"x":543,"y":795,"k":"tk"},{"x":560,"y":783,"k":"tp"},{"x":555,"y":785,"k":"tp"},{"x":510,"y":758,"k":"tp"},{"x":515,"y":762,"k":"tp"},{"x":530,"y":768,"k":"tp"},{"x":535,"y":772,"k":"tp"},{"x":548,"y":760,"k":"tp"},{"x":550,"y":752,"k":"tp"},{"x":580,"y":752,"k":"tp"},{"x":585,"y":755,"k":"tp"},{"x":600,"y":732,"k":"tg"},{"x":605,"y":730,"k":"tg"},{"x":570,"y":722,"k":"g"},{"x":540,"y":705,"k":"tp"},{"x":548,"y":710,"k":"tp"},{"x":555,"y":715,"k":"tp"},{"x":560,"y":690,"k":"g"},{"x":550,"y":665,"k":"tp"},{"x":552,"y":670,"k":"tp"},{"x":580,"y":680,"k":"g"},{"x":595,"y":695,"k":"tp"},{"x":620,"y":690,"k":"tp"},{"x":625,"y":693,"k":"tp"},{"x":635,"y":678,"k":"tp"},{"x":655,"y":700,"k":"tp"},{"x":660,"y":702,"k":"tp"},{"x":688,"y":700,"k":"tp"},{"x":685,"y":703,"k":"tp"},{"x":680,"y":660,"k":"tp"},{"x":678,"y":655,"k":"tp"},{"x":650,"y":678,"k":"tp"},{"x":648,"y":675,"k":"tp"},{"x":745,"y":700,"k":"tp"},{"x":755,"y":700,"k":"tp"},{"x":765,"y":700,"k":"tp"},{"x":780,"y":700,"k":"tr"},{"x":790,"y":698,"k":"tr"},{"x":795,"y":702,"k":"tr"},
{"x":560,"y":655,"k":"g"},{"x":565,"y":645,"k":"g"},{"x":570,"y":630,"k":"g"},{"x":575,"y":620,"k":"g"},{"x":585,"y":610,"k":"g"},{"x":590,"y":600,"k":"g"},{"x":580,"y":590,"k":"g"},{"x":575,"y":580,"k":"g"},{"x":570,"y":570,"k":"g"},{"x":580,"y":560,"k":"g"},{"x":590,"y":555,"k":"g"},{"x":600,"y":550,"k":"g"},{"x":595,"y":540,"k":"g"},{"x":585,"y":530,"k":"g"},{"x":590,"y":525,"k":"g"},{"x":610,"y":530,"k":"g"},{"x":615,"y":540,"k":"g"},{"x":620,"y":550,"k":"g"},{"x":625,"y":560,"k":"g"},{"x":610,"y":570,"k":"g"},{"x":600,"y":580,"k":"g"},{"x":605,"y":590,"k":"g"},{"x":615,"y":600,"k":"g"},{"x":610,"y":615,"k":"g"},{"x":600,"y":625,"k":"g"},{"x":595,"y":640,"k":"g"},{"x":620,"y":625,"k":"g"},{"x":630,"y":580,"k":"g"},{"x":640,"y":590,"k":"g"},{"x":645,"y":560,"k":"g"},{"x":650,"y":550,"k":"g"},{"x":655,"y":540,"k":"g"},{"x":665,"y":550,"k":"g"},{"x":660,"y":570,"k":"g"},{"x":635,"y":550,"k":"g"},{"x":630,"y":535,"k":"g"},{"x":560,"y":605,"k":"g"},{"x":575,"y":605,"k":"g"},{"x":615,"y":490,"k":"g"},{"x":560,"y":490,"k":"g"},{"x":600,"y":565,"k":"g"},
{"x":565,"y":630,"k":"g"},{"x":580,"y":640,"k":"g"},{"x":585,"y":620,"k":"g"},{"x":595,"y":610,"k":"g"},{"x":605,"y":600,"k":"g"},{"x":620,"y":590,"k":"g"},{"x":625,"y":570,"k":"g"},{"x":615,"y":580,"k":"g"},{"x":640,"y":570,"k":"g"},{"x":650,"y":560,"k":"g"},{"x":610,"y":545,"k":"g"},{"x":600,"y":535,"k":"g"},{"x":585,"y":545,"k":"g"},{"x":575,"y":555,"k":"g"},{"x":590,"y":565,"k":"g"},{"x":620,"y":610,"k":"g"},{"x":640,"y":545,"k":"g"},{"x":670,"y":540,"k":"g"},
{"x":720,"y":565,"k":"g"},{"x":730,"y":568,"k":"g"},{"x":740,"y":570,"k":"g"},{"x":745,"y":575,"k":"g"},{"x":735,"y":560,"k":"g"},{"x":755,"y":560,"k":"g"},{"x":760,"y":552,"k":"g"},{"x":765,"y":548,"k":"g"},{"x":740,"y":555,"k":"tg"},{"x":750,"y":555,"k":"tg"},
{"x":860,"y":655,"k":"r"},{"x":870,"y":660,"k":"r"},{"x":880,"y":670,"k":"r"},{"x":890,"y":665,"k":"r"},{"x":900,"y":660,"k":"r"},{"x":910,"y":665,"k":"r"},{"x":920,"y":655,"k":"r"},{"x":925,"y":645,"k":"r"},{"x":930,"y":630,"k":"r"},{"x":935,"y":620,"k":"r"},{"x":925,"y":610,"k":"r"},{"x":920,"y":600,"k":"r"},{"x":915,"y":590,"k":"r"},{"x":920,"y":580,"k":"r"},{"x":915,"y":570,"k":"r"},{"x":910,"y":560,"k":"r"},{"x":900,"y":550,"k":"r"},{"x":905,"y":540,"k":"r"},{"x":895,"y":535,"k":"r"},{"x":880,"y":530,"k":"r"},{"x":875,"y":520,"k":"r"},{"x":885,"y":515,"k":"r"},{"x":870,"y":540,"k":"r"},{"x":860,"y":560,"k":"r"},{"x":870,"y":570,"k":"r"},{"x":880,"y":580,"k":"r"},{"x":890,"y":590,"k":"r"},{"x":895,"y":600,"k":"r"},{"x":885,"y":610,"k":"r"},{"x":880,"y":620,"k":"r"},{"x":870,"y":630,"k":"r"},{"x":865,"y":640,"k":"r"},{"x":880,"y":650,"k":"r"},{"x":895,"y":630,"k":"r"},{"x":905,"y":615,"k":"r"},{"x":900,"y":580,"k":"r"},{"x":885,"y":560,"k":"r"},{"x":890,"y":550,"k":"r"},{"x":875,"y":600,"k":"r"},{"x":860,"y":600,"k":"r"},{"x":870,"y":590,"k":"r"},{"x":830,"y":570,"k":"r"},
{"x":865,"y":650,"k":"r"},{"x":875,"y":645,"k":"r"},{"x":895,"y":650,"k":"r"},{"x":915,"y":645,"k":"r"},{"x":925,"y":625,"k":"r"},{"x":915,"y":615,"k":"r"},{"x":905,"y":600,"k":"r"},{"x":910,"y":580,"k":"r"},{"x":905,"y":570,"k":"r"},{"x":895,"y":560,"k":"r"},{"x":880,"y":545,"k":"r"},{"x":865,"y":550,"k":"r"},{"x":885,"y":570,"k":"r"},{"x":880,"y":600,"k":"r"},{"x":895,"y":615,"k":"r"},{"x":890,"y":640,"k":"r"},{"x":875,"y":555,"k":"r"},{"x":900,"y":525,"k":"r"},
{"x":888,"y":655,"k":"tr"},{"x":892,"y":650,"k":"tr"},{"x":755,"y":582,"k":"tr"},{"x":775,"y":595,"k":"tr"},
{"x":437,"y":455,"k":"tk"},{"x":448,"y":442,"k":"tc"},{"x":450,"y":440,"k":"tc"},{"x":375,"y":396,"k":"tk"},{"x":395,"y":396,"k":"tk"},{"x":462,"y":400,"k":"tb"},{"x":465,"y":395,"k":"tb"},{"x":468,"y":387,"k":"tb"},{"x":470,"y":375,"k":"tb"},{"x":480,"y":368,"k":"tb"},{"x":490,"y":360,"k":"tb"},{"x":495,"y":355,"k":"tb"},{"x":500,"y":363,"k":"tb"},{"x":462,"y":340,"k":"tb"},{"x":470,"y":335,"k":"tb"},{"x":478,"y":330,"k":"tb"},{"x":472,"y":345,"k":"tb"},{"x":468,"y":322,"k":"tg"},{"x":470,"y":315,"k":"tg"},{"x":515,"y":370,"k":"tg"},{"x":510,"y":367,"k":"tg"},{"x":530,"y":370,"k":"tb"},{"x":535,"y":360,"k":"tb"},{"x":545,"y":360,"k":"tb"},{"x":548,"y":383,"k":"tk"},{"x":550,"y":385,"k":"tk"},{"x":560,"y":352,"k":"tb"},
{"x":500,"y":120,"k":"b"},{"x":510,"y":130,"k":"b"},{"x":520,"y":140,"k":"b"},{"x":530,"y":150,"k":"b"},{"x":540,"y":145,"k":"b"},{"x":550,"y":140,"k":"b"},{"x":560,"y":135,"k":"b"},{"x":570,"y":140,"k":"b"},{"x":575,"y":125,"k":"b"},{"x":565,"y":110,"k":"b"},{"x":570,"y":95,"k":"b"},{"x":560,"y":85,"k":"b"},{"x":550,"y":80,"k":"b"},{"x":540,"y":75,"k":"b"},{"x":530,"y":70,"k":"b"},{"x":520,"y":85,"k":"b"},{"x":510,"y":100,"k":"b"},{"x":505,"y":110,"k":"b"},{"x":520,"y":115,"k":"b"},{"x":535,"y":120,"k":"b"},{"x":545,"y":110,"k":"b"},{"x":555,"y":105,"k":"b"},{"x":540,"y":100,"k":"b"},{"x":525,"y":105,"k":"b"},{"x":530,"y":130,"k":"b"},{"x":550,"y":125,"k":"b"},{"x":580,"y":110,"k":"b"},{"x":525,"y":90,"k":"b"},{"x":545,"y":90,"k":"b"},
{"x":510,"y":120,"k":"b"},{"x":525,"y":125,"k":"b"},{"x":540,"y":130,"k":"b"},{"x":555,"y":130,"k":"b"},{"x":565,"y":120,"k":"b"},{"x":560,"y":100,"k":"b"},{"x":550,"y":90,"k":"b"},{"x":535,"y":95,"k":"b"},{"x":515,"y":95,"k":"b"},{"x":530,"y":80,"k":"b"},{"x":545,"y":80,"k":"b"},{"x":560,"y":115,"k":"b"},{"x":515,"y":140,"k":"b"},{"x":575,"y":105,"k":"b"}
],
"d":[
{"x":485,"y":915,"k":"b"},{"x":490,"y":920,"k":"b"},{"x":500,"y":925,"k":"b"},{"x":510,"y":930,"k":"b"},{"x":520,"y":935,"k":"b"},{"x":535,"y":940,"k":"b"},{"x":545,"y":938,"k":"b"},{"x":555,"y":932,"k":"b"},{"x":565,"y":925,"k":"b"},{"x":575,"y":920,"k":"b"},{"x":570,"y":910,"k":"b"},{"x":560,"y":905,"k":"b"},{"x":550,"y":900,"k":"b"},{"x":540,"y":895,"k":"b"},{"x":525,"y":892,"k":"b"},{"x":515,"y":895,"k":"b"},{"x":500,"y":900,"k":"b"},{"x":490,"y":905,"k":"b"},{"x":505,"y":915,"k":"b"},{"x":520,"y":920,"k":"b"},{"x":535,"y":925,"k":"b"},{"x":545,"y":915,"k":"b"},{"x":530,"y":908,"k":"b"},{"x":515,"y":905,"k":"b"},{"x":555,"y":918,"k":"b"},{"x":500,"y":910,"k":"b"},
{"x":495,"y":915,"k":"b"},{"x":510,"y":922,"k":"b"},{"x":525,"y":928,"k":"b"},{"x":540,"y":935,"k":"b"},{"x":550,"y":925,"k":"b"},{"x":560,"y":918,"k":"b"},{"x":570,"y":915,"k":"b"},{"x":535,"y":900,"k":"b"},{"x":545,"y":905,"k":"b"},{"x":510,"y":900,"k":"b"},{"x":525,"y":915,"k":"b"},{"x":495,"y":905,"k":"b"},
{"x":605,"y":778,"k":"tb"},{"x":612,"y":775,"k":"tb"},{"x":600,"y":760,"k":"tb"},{"x":615,"y":758,"k":"tb"},{"x":622,"y":762,"k":"tb"},{"x":668,"y":800,"k":"tb"},{"x":665,"y":790,"k":"tb"},{"x":670,"y":782,"k":"tb"},{"x":690,"y":793,"k":"tb"},{"x":595,"y":752,"k":"tg"},{"x":592,"y":750,"k":"tg"},
{"x":180,"y":780,"k":"m"},{"x":190,"y":770,"k":"m"},{"x":195,"y":760,"k":"m"},{"x":185,"y":750,"k":"m"},{"x":200,"y":745,"k":"m"},{"x":205,"y":765,"k":"m"},{"x":215,"y":735,"k":"m"},{"x":220,"y":720,"k":"m"},{"x":225,"y":705,"k":"m"},{"x":230,"y":700,"k":"m"},{"x":220,"y":690,"k":"m"},{"x":215,"y":680,"k":"m"},{"x":210,"y":670,"k":"m"},{"x":205,"y":660,"k":"m"},{"x":215,"y":655,"k":"m"},{"x":220,"y":645,"k":"m"},{"x":225,"y":675,"k":"m"},{"x":230,"y":690,"k":"m"},{"x":235,"y":710,"k":"m"},{"x":240,"y":715,"k":"m"},{"x":200,"y":720,"k":"m"},{"x":210,"y":700,"k":"m"},{"x":195,"y":770,"k":"m"},{"x":205,"y":780,"k":"m"},{"x":178,"y":760,"k":"m"},{"x":210,"y":682,"k":"m"},{"x":215,"y":710,"k":"m"},
{"x":185,"y":775,"k":"m"},{"x":200,"y":770,"k":"m"},{"x":210,"y":755,"k":"m"},{"x":205,"y":740,"k":"m"},{"x":215,"y":725,"k":"m"},{"x":225,"y":715,"k":"m"},{"x":225,"y":695,"k":"m"},{"x":215,"y":700,"k":"m"},{"x":220,"y":665,"k":"m"},{"x":210,"y":650,"k":"m"},{"x":225,"y":655,"k":"m"},{"x":200,"y":760,"k":"m"},{"x":190,"y":755,"k":"m"},
{"x":240,"y":750,"k":"tp"},{"x":245,"y":738,"k":"tp"},{"x":225,"y":760,"k":"tp"},{"x":230,"y":765,"k":"tp"},{"x":268,"y":730,"k":"tp"},{"x":195,"y":655,"k":"tp"},{"x":190,"y":650,"k":"tp"},{"x":215,"y":650,"k":"tp"},{"x":180,"y":620,"k":"tp"},{"x":175,"y":615,"k":"tp"},{"x":170,"y":605,"k":"tp"},{"x":160,"y":600,"k":"tp"},{"x":150,"y":595,"k":"tp"},{"x":140,"y":595,"k":"tp"},{"x":130,"y":585,"k":"tp"},{"x":125,"y":580,"k":"tp"},{"x":135,"y":610,"k":"tp"},{"x":180,"y":595,"k":"tp"},{"x":185,"y":590,"k":"tp"},{"x":153,"y":550,"k":"tp"},{"x":155,"y":544,"k":"tp"},{"x":268,"y":650,"k":"tc"},
{"x":70,"y":400,"k":"g"},{"x":75,"y":390,"k":"g"},{"x":80,"y":380,"k":"g"},{"x":85,"y":370,"k":"g"},{"x":90,"y":360,"k":"g"},{"x":95,"y":355,"k":"g"},{"x":100,"y":365,"k":"g"},{"x":105,"y":375,"k":"g"},{"x":95,"y":385,"k":"g"},{"x":85,"y":395,"k":"g"},{"x":75,"y":370,"k":"g"},{"x":70,"y":355,"k":"g"},{"x":80,"y":345,"k":"g"},{"x":90,"y":335,"k":"g"},{"x":100,"y":330,"k":"g"},{"x":110,"y":340,"k":"g"},{"x":115,"y":350,"k":"g"},{"x":120,"y":360,"k":"g"},{"x":125,"y":370,"k":"g"},{"x":130,"y":380,"k":"g"},{"x":140,"y":385,"k":"g"},{"x":150,"y":370,"k":"g"},{"x":160,"y":375,"k":"g"},{"x":175,"y":375,"k":"g"},{"x":180,"y":370,"k":"g"},{"x":165,"y":360,"k":"g"},{"x":155,"y":350,"k":"g"},{"x":145,"y":345,"k":"g"},{"x":140,"y":335,"k":"g"},{"x":130,"y":330,"k":"g"},{"x":120,"y":310,"k":"g"},{"x":110,"y":310,"k":"g"},{"x":130,"y":310,"k":"g"},{"x":150,"y":300,"k":"g"},{"x":165,"y":310,"k":"g"},{"x":125,"y":285,"k":"g"},{"x":130,"y":280,"k":"g"},{"x":145,"y":275,"k":"g"},{"x":155,"y":275,"k":"g"},{"x":100,"y":310,"k":"g"},{"x":95,"y":345,"k":"g"},
{"x":75,"y":380,"k":"g"},{"x":85,"y":385,"k":"g"},{"x":90,"y":375,"k":"g"},{"x":95,"y":370,"k":"g"},{"x":100,"y":350,"k":"g"},{"x":105,"y":360,"k":"g"},{"x":110,"y":370,"k":"g"},{"x":120,"y":375,"k":"g"},{"x":135,"y":370,"k":"g"},{"x":140,"y":360,"k":"g"},{"x":150,"y":355,"k":"g"},{"x":160,"y":340,"k":"g"},{"x":135,"y":325,"k":"g"},{"x":125,"y":340,"k":"g"},{"x":110,"y":325,"k":"g"},{"x":120,"y":295,"k":"g"},{"x":140,"y":290,"k":"g"},{"x":160,"y":300,"k":"g"},{"x":85,"y":360,"k":"g"},{"x":80,"y":400,"k":"g"},
{"x":110,"y":435,"k":"tp"},{"x":105,"y":430,"k":"tp"},{"x":140,"y":420,"k":"tp"},{"x":145,"y":415,"k":"tp"},{"x":170,"y":405,"k":"tp"},{"x":175,"y":402,"k":"tp"},{"x":110,"y":440,"k":"tg"},
{"x":430,"y":480,"k":"r"},{"x":440,"y":490,"k":"r"},{"x":450,"y":500,"k":"r"},{"x":460,"y":505,"k":"r"},{"x":465,"y":490,"k":"r"},{"x":470,"y":480,"k":"r"},{"x":480,"y":475,"k":"r"},{"x":490,"y":480,"k":"r"},{"x":500,"y":490,"k":"r"},{"x":510,"y":500,"k":"r"},{"x":505,"y":510,"k":"r"},{"x":515,"y":520,"k":"r"},{"x":520,"y":535,"k":"r"},{"x":530,"y":530,"k":"r"},{"x":540,"y":525,"k":"r"},{"x":550,"y":520,"k":"r"},{"x":555,"y":505,"k":"r"},{"x":560,"y":495,"k":"r"},{"x":570,"y":500,"k":"r"},{"x":580,"y":505,"k":"r"},{"x":590,"y":495,"k":"r"},{"x":575,"y":480,"k":"r"},{"x":560,"y":475,"k":"r"},{"x":545,"y":470,"k":"r"},{"x":530,"y":480,"k":"r"},{"x":520,"y":475,"k":"r"},{"x":510,"y":470,"k":"r"},{"x":500,"y":465,"k":"r"},{"x":490,"y":470,"k":"r"},{"x":475,"y":490,"k":"r"},{"x":485,"y":500,"k":"r"},{"x":495,"y":505,"k":"r"},{"x":535,"y":505,"k":"r"},{"x":520,"y":490,"k":"r"},{"x":545,"y":490,"k":"r"},{"x":455,"y":475,"k":"r"},{"x":445,"y":475,"k":"r"},{"x":440,"y":480,"k":"r"},{"x":425,"y":455,"k":"r"},{"x":435,"y":445,"k":"r"},{"x":445,"y":430,"k":"r"},{"x":570,"y":440,"k":"r"},
{"x":445,"y":485,"k":"r"},{"x":455,"y":490,"k":"r"},{"x":470,"y":495,"k":"r"},{"x":480,"y":490,"k":"r"},{"x":490,"y":495,"k":"r"},{"x":500,"y":500,"k":"r"},{"x":510,"y":510,"k":"r"},{"x":525,"y":520,"k":"r"},{"x":530,"y":510,"k":"r"},{"x":540,"y":515,"k":"r"},{"x":550,"y":500,"k":"r"},{"x":565,"y":485,"k":"r"},{"x":580,"y":490,"k":"r"},{"x":570,"y":510,"k":"r"},{"x":555,"y":470,"k":"r"},{"x":515,"y":465,"k":"r"},{"x":525,"y":495,"k":"r"},{"x":460,"y":480,"k":"r"},
{"x":850,"y":540,"k":"lp"},{"x":855,"y":530,"k":"lp"},{"x":860,"y":520,"k":"lp"},{"x":865,"y":510,"k":"lp"},{"x":870,"y":500,"k":"lp"},{"x":865,"y":490,"k":"lp"},{"x":870,"y":480,"k":"lp"},{"x":875,"y":470,"k":"lp"},{"x":880,"y":460,"k":"lp"},{"x":885,"y":450,"k":"lp"},{"x":890,"y":445,"k":"lp"},{"x":880,"y":440,"k":"lp"},{"x":870,"y":455,"k":"lp"},{"x":860,"y":470,"k":"lp"},{"x":855,"y":480,"k":"lp"},{"x":850,"y":500,"k":"lp"},{"x":845,"y":510,"k":"lp"},{"x":875,"y":530,"k":"lp"},{"x":885,"y":520,"k":"lp"},{"x":890,"y":500,"k":"lp"},{"x":880,"y":490,"k":"lp"},{"x":885,"y":480,"k":"lp"},{"x":895,"y":470,"k":"lp"},{"x":890,"y":460,"k":"lp"},{"x":870,"y":540,"k":"lp"},{"x":860,"y":545,"k":"lp"},
{"x":855,"y":510,"k":"lp"},{"x":860,"y":495,"k":"lp"},{"x":875,"y":510,"k":"lp"},{"x":880,"y":500,"k":"lp"},{"x":875,"y":480,"k":"lp"},{"x":865,"y":465,"k":"lp"},{"x":885,"y":470,"k":"lp"},{"x":890,"y":510,"k":"lp"},{"x":880,"y":450,"k":"lp"},{"x":870,"y":525,"k":"lp"},{"x":885,"y":530,"k":"lp"},{"x":880,"y":545,"k":"lp"},
{"x":868,"y":560,"k":"tp"},{"x":865,"y":550,"k":"tp"},{"x":870,"y":545,"k":"tp"},{"x":867,"y":587,"k":"tk"},{"x":905,"y":505,"k":"tk"},{"x":910,"y":510,"k":"tk"},{"x":900,"y":510,"k":"tk"},{"x":940,"y":553,"k":"tk"},{"x":960,"y":550,"k":"tk"},{"x":935,"y":478,"k":"tk"},{"x":835,"y":455,"k":"tk"},{"x":900,"y":440,"k":"tk"},
{"x":475,"y":160,"k":"c"},{"x":480,"y":170,"k":"c"},{"x":490,"y":175,"k":"c"},{"x":500,"y":180,"k":"c"},{"x":510,"y":175,"k":"c"},{"x":505,"y":165,"k":"c"},{"x":495,"y":160,"k":"c"},{"x":485,"y":150,"k":"c"},{"x":480,"y":140,"k":"c"},{"x":490,"y":130,"k":"c"},{"x":500,"y":120,"k":"c"},{"x":505,"y":110,"k":"c"},{"x":495,"y":105,"k":"c"},{"x":490,"y":115,"k":"c"},{"x":500,"y":140,"k":"c"},{"x":510,"y":150,"k":"c"},{"x":515,"y":130,"k":"c"},{"x":520,"y":120,"k":"c"},{"x":525,"y":100,"k":"c"},{"x":530,"y":90,"k":"c"},{"x":535,"y":80,"k":"c"},{"x":540,"y":70,"k":"c"},{"x":545,"y":85,"k":"c"},{"x":550,"y":95,"k":"c"},{"x":540,"y":110,"k":"c"},{"x":555,"y":120,"k":"c"},{"x":560,"y":125,"k":"c"},{"x":570,"y":135,"k":"c"},{"x":575,"y":145,"k":"c"},{"x":580,"y":155,"k":"c"},{"x":585,"y":125,"k":"c"},{"x":580,"y":115,"k":"c"},{"x":570,"y":110,"k":"c"},{"x":545,"y":150,"k":"c"},{"x":535,"y":140,"k":"c"},{"x":525,"y":155,"k":"c"},{"x":600,"y":160,"k":"c"},{"x":590,"y":140,"k":"c"},{"x":555,"y":160,"k":"c"},
{"x":480,"y":150,"k":"c"},{"x":495,"y":170,"k":"c"},{"x":505,"y":155,"k":"c"},{"x":495,"y":150,"k":"c"},{"x":490,"y":140,"k":"c"},{"x":505,"y":130,"k":"c"},{"x":510,"y":120,"k":"c"},{"x":495,"y":125,"k":"c"},{"x":505,"y":95,"k":"c"},{"x":515,"y":110,"k":"c"},{"x":530,"y":100,"k":"c"},{"x":535,"y":120,"k":"c"},{"x":545,"y":125,"k":"c"},{"x":550,"y":135,"k":"c"},{"x":560,"y":150,"k":"c"},{"x":565,"y":140,"k":"c"},{"x":575,"y":125,"k":"c"},{"x":560,"y":110,"k":"c"},{"x":520,"y":145,"k":"c"},{"x":485,"y":160,"k":"c"}
],
"ec":[{"x":157,"y":860,"e":"cP"},{"x":120,"y":547,"e":"cC"},{"x":498,"y":712,"e":"cU"},{"x":657,"y":567,"e":"cG"},{"x":861,"y":619,"e":"cR"},{"x":560,"y":252,"e":"cB"}],
"ed":[{"x":581,"y":845,"e":"dB"},{"x":200,"y":654,"e":"dU"},{"x":128,"y":354,"e":"dG"},{"x":508,"y":485,"e":"dR"},{"x":880,"y":513,"e":"dP"},{"x":543,"y":130,"e":"dC"}],
"xa":[{"x":18,"y":975,"e":"up"},{"x":966,"y":27,"e":"rt"}],
"xb":[{"x":20,"y":975,"e":"up"},{"x":968,"y":27,"e":"rt"}],
"xc":[{"x":12,"y":973,"e":"up"},{"x":960,"y":25,"e":"rt"}],
"xd":[{"x":15,"y":973,"e":"up"},{"x":963,"y":25,"e":"rt"}]
},
"vconcat":[
{"hconcat":[
{"title":"Source Only","width":316,"height":316,
 "encoding":{"x":{"field":"x","type":"quantitative","scale":{"domain":[18,966],"nice":false,"zero":false},"axis":{"title":["t-SNE Dimension 1","(a)"]}},"y":{"field":"y","type":"quantitative","scale":{"domain":[27,975],"nice":false,"zero":false},"axis":{"title":"t-SNE Dimension 2"}}},
 "layer":[
 {"data":{"name":"a"},"transform":[{"filter":{"not":{"field":"k","oneOf":["tp","tb","tk","tr","tg","tc"]}}}],"mark":{"type":"circle","size":13,"opacity":1},"encoding":{"color":{"field":"k","type":"nominal","legend":null,"scale":{"domain":["lp","c","m","b","g","r","tp","tb","tk","tr","tg","tc"],"range":["#ffb6c1","#1ab8b8","#bf00bf","#0000ff","#008000","#ff0000","#9467bd","#1f77b4","#e377c2","#d62728","#2ca02c","#17becf"]}}}},
 {"data":{"name":"a"},"transform":[{"filter":{"field":"k","oneOf":["tp","tb","tk","tr","tg","tc"]}}],"mark":{"type":"circle","size":24,"opacity":1},"encoding":{"color":{"field":"k","type":"nominal","legend":null}}},
 {"data":{"name":"xa"},"mark":{"type":"point","size":4,"filled":true,"color":"black","opacity":1},"encoding":{"shape":{"field":"e","type":"nominal","legend":null,"scale":{"domain":["up","rt","cP","cC","cU","cG","cR","cB","dB","dU","dG","dR","dP","dC"],"range":["M0,0L-6.5,13L6.5,13Z","M0,0L-13,-6.5L-13,6.5Z","M-38.3,0A38.3,33.7,0,1,1,38.3,0A38.3,33.7,0,1,1,-38.3,0Z","M-30.7,0A30.7,28.8,0,1,1,30.7,0A30.7,28.8,0,1,1,-30.7,0Z","M-84.5,12.5A85.4,28.4,-8.4,1,1,84.5,-12.5A85.4,28.4,-8.4,1,1,-84.5,12.5Z","M-43.3,0A43.3,35.5,0,1,1,43.3,0A43.3,35.5,0,1,1,-43.3,0Z","M-33,0A33,39.7,0,1,1,33,0A33,39.7,0,1,1,-33,0Z","M-13.3,-71.2A72.4,43.4,79.4,1,1,13.3,71.2A72.4,43.4,79.4,1,1,-13.3,-71.2Z","M-47,0A47,41.7,0,1,1,47,0A47,41.7,0,1,1,-47,0Z","M-39.3,0A39.3,47,0,1,1,39.3,0A39.3,47,0,1,1,-39.3,0Z","M-32.2,0A32.2,35.3,0,1,1,32.2,0A32.2,35.3,0,1,1,-32.2,0Z","M-36.2,0A36.2,28.3,0,1,1,36.2,0A36.2,28.3,0,1,1,-36.2,0Z","M-30,0A30,31.7,0,1,1,30,0A30,31.7,0,1,1,-30,0Z","M-30.5,0A30.5,27.5,0,1,1,30.5,0A30.5,27.5,0,1,1,-30.5,0Z"]}}}}
 ]},
{"title":"Source + Target","width":316,"height":316,
 "encoding":{"x":{"field":"x","type":"quantitative","scale":{"domain":[20,968],"nice":false,"zero":false},"axis":{"title":["t-SNE Dimension 1","(b)"]}},"y":{"field":"y","type":"quantitative","scale":{"domain":[27,975],"nice":false,"zero":false},"axis":{"title":"t-SNE Dimension 2"}}},
 "layer":[
 {"data":{"name":"b"},"transform":[{"filter":{"not":{"field":"k","oneOf":["tp","tb","tk","tr","tg","tc"]}}}],"mark":{"type":"circle","size":13,"opacity":1},"encoding":{"color":{"field":"k","type":"nominal","legend":null}}},
 {"data":{"name":"b"},"transform":[{"filter":{"field":"k","oneOf":["tp","tb","tk","tr","tg","tc"]}}],"mark":{"type":"circle","size":24,"opacity":1},"encoding":{"color":{"field":"k","type":"nominal","legend":null}}},
 {"data":{"name":"xb"},"mark":{"type":"point","size":4,"filled":true,"color":"black","opacity":1},"encoding":{"shape":{"field":"e","type":"nominal","legend":null}}}
 ]}
],"spacing":151,"resolve":{"scale":{"x":"independent","y":"independent"}}},
{"hconcat":[
{"title":"Source + Target with SA & S","width":316,"height":316,
 "encoding":{"x":{"field":"x","type":"quantitative","scale":{"domain":[12,960],"nice":false,"zero":false},"axis":{"title":["t-SNE Dimension 1","(c)"]}},"y":{"field":"y","type":"quantitative","scale":{"domain":[25,973],"nice":false,"zero":false},"axis":{"title":"t-SNE Dimension 2"}}},
 "layer":[
 {"data":{"name":"ec"},"mark":{"type":"point","size":4,"filled":false,"strokeWidth":1.4,"opacity":1},"encoding":{"shape":{"field":"e","type":"nominal","legend":null},"stroke":{"field":"e","type":"nominal","legend":null,"scale":{"domain":["cP","cC","cU","cG","cR","cB","dB","dU","dG","dR","dP","dC"],"range":["#e690d2","#36c3c9","#7b52ae","#3a8f3a","#ff3333","#4848ff","#4848ff","#7b52ae","#3a8f3a","#ff3333","#e690d2","#36c3c9"]}}}},
 {"data":{"name":"c"},"transform":[{"filter":{"not":{"field":"k","oneOf":["tp","tb","tk","tr","tg","tc"]}}}],"mark":{"type":"circle","size":13,"opacity":1},"encoding":{"color":{"field":"k","type":"nominal","legend":null}}},
 {"data":{"name":"c"},"transform":[{"filter":{"field":"k","oneOf":["tp","tb","tk","tr","tg","tc"]}}],"mark":{"type":"circle","size":24,"opacity":1},"encoding":{"color":{"field":"k","type":"nominal","legend":null}}},
 {"data":{"name":"xc"},"mark":{"type":"point","size":4,"filled":true,"color":"black","opacity":1},"encoding":{"shape":{"field":"e","type":"nominal","legend":null}}}
 ]},
{"title":"Proposed Method","width":316,"height":316,
 "encoding":{"x":{"field":"x","type":"quantitative","scale":{"domain":[15,963],"nice":false,"zero":false},"axis":{"title":["t-SNE Dimension 1","(d)"]}},"y":{"field":"y","type":"quantitative","scale":{"domain":[25,973],"nice":false,"zero":false},"axis":{"title":"t-SNE Dimension 2"}}},
 "layer":[
 {"data":{"name":"ed"},"mark":{"type":"point","size":4,"filled":false,"strokeWidth":1.4,"opacity":1},"encoding":{"shape":{"field":"e","type":"nominal","legend":null},"stroke":{"field":"e","type":"nominal","legend":null}}},
 {"data":{"name":"d"},"transform":[{"filter":{"not":{"field":"k","oneOf":["tp","tb","tk","tr","tg","tc"]}}}],"mark":{"type":"circle","size":13,"opacity":1},"encoding":{"color":{"field":"k","type":"nominal","legend":null}}},
 {"data":{"name":"d"},"transform":[{"filter":{"field":"k","oneOf":["tp","tb","tk","tr","tg","tc"]}}],"mark":{"type":"circle","size":24,"opacity":1},"encoding":{"color":{"field":"k","type":"nominal","legend":null}}},
 {"data":{"name":"xd"},"mark":{"type":"point","size":4,"filled":true,"color":"black","opacity":1},"encoding":{"shape":{"field":"e","type":"nominal","legend":null}}}
 ]}
],"spacing":144,"resolve":{"scale":{"x":"independent","y":"independent"}}}
],
"spacing":18,
"resolve":{"scale":{"x":"independent","y":"independent"}}
}
